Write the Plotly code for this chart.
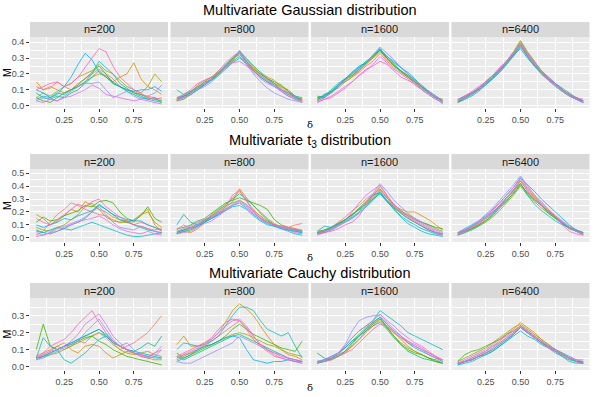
import plotly.graph_objects as go

# ---------------- data ----------------
delta = [0.05, 0.10, 0.15, 0.20, 0.25, 0.30, 0.35, 0.40, 0.45, 0.50,
         0.55, 0.60, 0.65, 0.70, 0.75, 0.80, 0.85, 0.90, 0.95]
sample_sizes = ["n=200", "n=800", "n=1600", "n=6400"]
row_titles = ["Multivariate Gaussian distribution",
              "Multivariate t<sub>3</sub> distribution",
              "Multivariate Cauchy distribution"]
y_ticks_row = [[0.0, 0.1, 0.2, 0.3, 0.4],
               [0.0, 0.1, 0.2, 0.3, 0.4, 0.5],
               [0.0, 0.1, 0.2, 0.3]]
x_ticks = [0.25, 0.50, 0.75]

g200 = [
    [0.12,0.10,0.11,0.15,0.12,0.10,0.14,0.17,0.20,0.23,0.20,0.17,0.12,0.10,0.09,0.07,0.06,0.05,0.04],
    [0.15,0.10,0.12,0.10,0.08,0.10,0.12,0.15,0.18,0.20,0.19,0.15,0.18,0.20,0.27,0.17,0.12,0.10,0.07],
    [0.05,0.08,0.06,0.09,0.12,0.14,0.18,0.20,0.22,0.26,0.22,0.20,0.16,0.12,0.10,0.08,0.12,0.20,0.15],
    [0.05,0.03,0.02,0.05,0.08,0.10,0.13,0.17,0.21,0.25,0.20,0.14,0.12,0.10,0.08,0.07,0.05,0.04,0.03],
    [0.08,0.05,0.04,0.06,0.05,0.08,0.10,0.14,0.18,0.22,0.18,0.15,0.12,0.09,0.07,0.05,0.04,0.05,0.02],
    [0.04,0.06,0.05,0.08,0.07,0.10,0.12,0.15,0.20,0.28,0.24,0.20,0.14,0.11,0.08,0.06,0.04,0.03,0.02],
    [0.10,0.08,0.05,0.07,0.12,0.18,0.26,0.33,0.29,0.21,0.18,0.14,0.12,0.10,0.09,0.10,0.10,0.12,0.09],
    [0.03,0.05,0.04,0.03,0.06,0.09,0.12,0.14,0.14,0.15,0.10,0.05,0.07,0.09,0.06,0.04,0.06,0.08,0.13],
    [0.03,0.02,0.04,0.03,0.05,0.06,0.08,0.10,0.13,0.11,0.07,0.06,0.05,0.04,0.03,0.04,0.03,0.02,0.01],
    [0.10,0.12,0.14,0.15,0.12,0.14,0.18,0.24,0.30,0.36,0.34,0.25,0.18,0.14,0.10,0.08,0.05,0.04,0.05],
]
g800 = [
    [0.04,0.05,0.09,0.12,0.14,0.17,0.20,0.25,0.29,0.33,0.27,0.23,0.19,0.16,0.14,0.11,0.08,0.05,0.03],
    [0.03,0.06,0.08,0.13,0.16,0.18,0.21,0.24,0.28,0.35,0.29,0.25,0.21,0.18,0.16,0.12,0.09,0.06,0.04],
    [0.05,0.07,0.09,0.11,0.15,0.18,0.22,0.26,0.30,0.32,0.28,0.24,0.20,0.17,0.14,0.12,0.10,0.06,0.03],
    [0.03,0.04,0.07,0.10,0.14,0.17,0.21,0.25,0.30,0.34,0.28,0.23,0.20,0.17,0.15,0.13,0.09,0.05,0.04],
    [0.04,0.06,0.08,0.11,0.13,0.17,0.20,0.24,0.28,0.31,0.26,0.22,0.18,0.15,0.13,0.10,0.07,0.05,0.03],
    [0.10,0.07,0.09,0.12,0.15,0.16,0.20,0.25,0.29,0.34,0.30,0.25,0.21,0.17,0.14,0.10,0.08,0.06,0.05],
    [0.05,0.06,0.07,0.10,0.13,0.16,0.19,0.23,0.27,0.30,0.27,0.22,0.18,0.15,0.12,0.09,0.06,0.04,0.02],
    [0.04,0.05,0.07,0.10,0.12,0.15,0.19,0.24,0.29,0.33,0.26,0.20,0.15,0.11,0.08,0.06,0.04,0.03,0.02],
    [0.03,0.05,0.07,0.11,0.14,0.17,0.22,0.27,0.31,0.34,0.28,0.21,0.17,0.14,0.12,0.10,0.07,0.05,0.03],
    [0.04,0.07,0.10,0.14,0.16,0.18,0.21,0.24,0.27,0.28,0.25,0.22,0.19,0.16,0.13,0.09,0.06,0.04,0.03],
]
g1600 = [
    [0.05,0.06,0.09,0.13,0.15,0.18,0.21,0.25,0.28,0.33,0.28,0.24,0.21,0.18,0.15,0.12,0.08,0.05,0.03],
    [0.04,0.07,0.08,0.12,0.16,0.19,0.22,0.26,0.30,0.35,0.29,0.25,0.22,0.19,0.16,0.12,0.09,0.06,0.03],
    [0.03,0.05,0.09,0.11,0.15,0.18,0.22,0.27,0.30,0.34,0.30,0.26,0.21,0.18,0.15,0.12,0.09,0.06,0.02],
    [0.06,0.05,0.08,0.12,0.17,0.19,0.23,0.27,0.31,0.35,0.30,0.25,0.22,0.19,0.15,0.11,0.08,0.05,0.04],
    [0.04,0.06,0.10,0.14,0.17,0.20,0.24,0.28,0.31,0.36,0.30,0.26,0.22,0.18,0.14,0.10,0.07,0.04,0.02],
    [0.03,0.07,0.09,0.12,0.16,0.21,0.24,0.27,0.31,0.35,0.31,0.27,0.24,0.20,0.16,0.12,0.08,0.05,0.01],
    [0.05,0.06,0.09,0.13,0.17,0.21,0.25,0.27,0.32,0.36,0.31,0.28,0.24,0.21,0.17,0.12,0.09,0.06,0.03],
    [0.03,0.05,0.08,0.12,0.16,0.20,0.23,0.26,0.32,0.37,0.33,0.29,0.24,0.20,0.16,0.13,0.09,0.06,0.02],
    [0.02,0.04,0.06,0.09,0.12,0.15,0.19,0.22,0.26,0.31,0.27,0.23,0.20,0.17,0.13,0.10,0.07,0.04,0.02],
    [0.02,0.04,0.05,0.08,0.11,0.15,0.19,0.23,0.25,0.28,0.26,0.22,0.18,0.16,0.14,0.11,0.08,0.05,0.03],
]
g6400 = [
    [0.03,0.05,0.07,0.10,0.14,0.18,0.22,0.27,0.33,0.39,0.32,0.26,0.21,0.17,0.14,0.10,0.07,0.05,0.03],
    [0.02,0.04,0.07,0.11,0.15,0.19,0.23,0.28,0.33,0.40,0.33,0.27,0.22,0.17,0.13,0.10,0.07,0.04,0.02],
    [0.03,0.06,0.08,0.11,0.14,0.17,0.21,0.26,0.31,0.37,0.31,0.25,0.20,0.16,0.13,0.09,0.06,0.04,0.03],
    [0.02,0.05,0.08,0.10,0.14,0.18,0.23,0.28,0.34,0.41,0.34,0.28,0.22,0.18,0.14,0.10,0.07,0.05,0.03],
    [0.04,0.06,0.08,0.11,0.15,0.19,0.22,0.27,0.32,0.38,0.32,0.26,0.21,0.17,0.14,0.11,0.08,0.05,0.03],
    [0.02,0.04,0.06,0.09,0.13,0.17,0.22,0.27,0.32,0.38,0.31,0.25,0.20,0.16,0.12,0.09,0.06,0.04,0.02],
    [0.03,0.05,0.07,0.10,0.13,0.17,0.21,0.26,0.32,0.36,0.30,0.25,0.21,0.17,0.13,0.10,0.07,0.04,0.02],
    [0.03,0.05,0.07,0.10,0.14,0.18,0.23,0.27,0.33,0.39,0.32,0.27,0.22,0.18,0.14,0.10,0.06,0.04,0.02],
    [0.04,0.06,0.09,0.12,0.15,0.19,0.23,0.28,0.33,0.38,0.32,0.26,0.21,0.16,0.13,0.10,0.07,0.05,0.04],
    [0.03,0.06,0.08,0.11,0.15,0.19,0.24,0.28,0.33,0.39,0.33,0.27,0.22,0.17,0.13,0.10,0.07,0.05,0.03],
]
t200 = [
    [0.02,0.05,0.12,0.18,0.22,0.27,0.25,0.22,0.20,0.18,0.17,0.14,0.12,0.13,0.10,0.12,0.10,0.08,0.05],
    [0.18,0.15,0.10,0.13,0.17,0.22,0.20,0.28,0.25,0.22,0.20,0.16,0.14,0.13,0.12,0.18,0.22,0.10,0.05],
    [0.08,0.06,0.05,0.08,0.10,0.14,0.18,0.24,0.27,0.22,0.16,0.13,0.12,0.12,0.14,0.18,0.20,0.12,0.08],
    [0.12,0.16,0.13,0.14,0.17,0.19,0.21,0.25,0.24,0.28,0.29,0.27,0.20,0.15,0.13,0.17,0.24,0.15,0.12],
    [0.06,0.04,0.03,0.05,0.07,0.10,0.12,0.15,0.20,0.26,0.22,0.18,0.14,0.12,0.10,0.08,0.06,0.05,0.04],
    [0.05,0.04,0.06,0.08,0.07,0.06,0.08,0.10,0.12,0.10,0.08,0.06,0.04,0.02,0.01,0.01,0.02,0.03,0.04],
    [0.10,0.08,0.10,0.12,0.15,0.14,0.17,0.19,0.21,0.25,0.22,0.18,0.16,0.14,0.13,0.13,0.10,0.08,0.06],
    [0.04,0.02,0.04,0.07,0.09,0.11,0.13,0.16,0.20,0.24,0.18,0.12,0.08,0.07,0.06,0.09,0.07,0.05,0.03],
    [0.01,0.02,0.04,0.05,0.08,0.10,0.12,0.14,0.15,0.17,0.14,0.10,0.07,0.05,0.04,0.03,0.05,0.03,0.02],
    [0.15,0.12,0.10,0.14,0.18,0.22,0.26,0.24,0.28,0.30,0.24,0.20,0.16,0.13,0.10,0.09,0.07,0.06,0.07],
]
t800 = [
    [0.04,0.06,0.08,0.11,0.14,0.16,0.20,0.24,0.31,0.36,0.29,0.22,0.16,0.12,0.10,0.09,0.08,0.10,0.11],
    [0.03,0.05,0.04,0.07,0.12,0.15,0.19,0.23,0.28,0.38,0.31,0.25,0.20,0.15,0.11,0.08,0.07,0.06,0.05],
    [0.05,0.06,0.08,0.10,0.13,0.18,0.22,0.25,0.27,0.29,0.25,0.21,0.17,0.13,0.10,0.08,0.07,0.06,0.05],
    [0.07,0.08,0.10,0.13,0.15,0.19,0.23,0.27,0.29,0.31,0.29,0.27,0.25,0.22,0.14,0.10,0.08,0.07,0.05],
    [0.03,0.05,0.06,0.09,0.12,0.17,0.21,0.26,0.30,0.34,0.30,0.25,0.19,0.14,0.10,0.08,0.06,0.05,0.04],
    [0.10,0.18,0.12,0.10,0.13,0.15,0.18,0.21,0.24,0.25,0.22,0.17,0.13,0.10,0.09,0.07,0.05,0.03,0.02],
    [0.04,0.06,0.07,0.09,0.12,0.15,0.18,0.22,0.25,0.27,0.23,0.18,0.14,0.11,0.09,0.07,0.06,0.05,0.04],
    [0.05,0.07,0.09,0.12,0.14,0.16,0.19,0.22,0.26,0.29,0.26,0.20,0.15,0.12,0.10,0.08,0.07,0.06,0.05],
    [0.03,0.04,0.05,0.08,0.11,0.13,0.17,0.21,0.25,0.28,0.24,0.19,0.15,0.12,0.10,0.08,0.06,0.04,0.03],
    [0.06,0.10,0.07,0.10,0.14,0.17,0.20,0.24,0.33,0.37,0.28,0.20,0.15,0.12,0.10,0.09,0.08,0.07,0.06],
]
t1600 = [
    [0.04,0.05,0.08,0.12,0.16,0.21,0.25,0.30,0.34,0.38,0.31,0.24,0.19,0.15,0.12,0.09,0.06,0.04,0.03],
    [0.05,0.06,0.08,0.11,0.14,0.18,0.22,0.27,0.32,0.40,0.32,0.25,0.22,0.20,0.20,0.17,0.14,0.10,0.06],
    [0.04,0.05,0.08,0.11,0.14,0.17,0.22,0.27,0.31,0.37,0.31,0.26,0.21,0.18,0.15,0.12,0.10,0.07,0.05],
    [0.03,0.05,0.07,0.10,0.14,0.18,0.23,0.28,0.33,0.35,0.29,0.24,0.20,0.17,0.14,0.12,0.10,0.08,0.07],
    [0.04,0.06,0.08,0.11,0.14,0.18,0.22,0.26,0.30,0.34,0.28,0.23,0.19,0.15,0.12,0.09,0.06,0.04,0.03],
    [0.05,0.09,0.08,0.10,0.13,0.16,0.20,0.25,0.30,0.36,0.29,0.22,0.16,0.11,0.08,0.05,0.03,0.02,0.01],
    [0.03,0.04,0.06,0.09,0.12,0.15,0.19,0.24,0.29,0.35,0.28,0.22,0.17,0.13,0.10,0.07,0.05,0.03,0.02],
    [0.03,0.05,0.07,0.10,0.12,0.15,0.20,0.28,0.34,0.42,0.36,0.29,0.24,0.19,0.15,0.12,0.09,0.06,0.04],
    [0.02,0.04,0.06,0.09,0.13,0.20,0.27,0.33,0.37,0.41,0.33,0.26,0.21,0.17,0.14,0.11,0.08,0.05,0.03],
    [0.03,0.04,0.05,0.07,0.10,0.12,0.17,0.25,0.33,0.38,0.31,0.25,0.20,0.16,0.13,0.10,0.07,0.04,0.02],
]
t6400 = [
    [0.03,0.05,0.08,0.11,0.15,0.19,0.24,0.30,0.36,0.44,0.37,0.31,0.26,0.21,0.16,0.12,0.08,0.05,0.03],
    [0.02,0.04,0.07,0.10,0.14,0.19,0.25,0.31,0.37,0.45,0.38,0.32,0.26,0.20,0.16,0.11,0.07,0.05,0.02],
    [0.03,0.05,0.07,0.09,0.12,0.16,0.21,0.27,0.33,0.40,0.33,0.28,0.23,0.19,0.15,0.11,0.07,0.05,0.04],
    [0.04,0.05,0.07,0.10,0.13,0.17,0.23,0.28,0.35,0.42,0.34,0.29,0.25,0.20,0.16,0.12,0.08,0.06,0.04],
    [0.03,0.06,0.09,0.12,0.16,0.20,0.24,0.29,0.34,0.41,0.35,0.30,0.25,0.19,0.15,0.11,0.08,0.06,0.03],
    [0.02,0.04,0.06,0.09,0.13,0.18,0.24,0.31,0.37,0.42,0.33,0.26,0.21,0.17,0.13,0.10,0.08,0.05,0.03],
    [0.04,0.07,0.10,0.13,0.17,0.22,0.27,0.33,0.39,0.46,0.41,0.36,0.30,0.25,0.20,0.15,0.10,0.06,0.04],
    [0.03,0.06,0.09,0.13,0.18,0.23,0.29,0.35,0.41,0.48,0.40,0.33,0.27,0.22,0.17,0.12,0.08,0.05,0.03],
    [0.03,0.05,0.08,0.12,0.16,0.21,0.27,0.33,0.39,0.47,0.39,0.33,0.28,0.22,0.17,0.10,0.05,0.03,0.02],
    [0.04,0.06,0.08,0.11,0.15,0.20,0.25,0.31,0.37,0.44,0.36,0.30,0.25,0.21,0.17,0.13,0.09,0.06,0.03],
]
c200 = [
    [0.05,0.07,0.09,0.12,0.10,0.12,0.15,0.14,0.18,0.20,0.17,0.13,0.10,0.12,0.14,0.17,0.20,0.25,0.30],
    [0.06,0.08,0.10,0.12,0.14,0.10,0.08,0.12,0.13,0.12,0.08,0.05,0.07,0.09,0.08,0.06,0.05,0.04,0.04],
    [0.05,0.06,0.07,0.08,0.10,0.12,0.14,0.16,0.18,0.20,0.18,0.14,0.10,0.08,0.07,0.08,0.09,0.07,0.06],
    [0.10,0.25,0.12,0.10,0.12,0.13,0.15,0.17,0.18,0.15,0.13,0.10,0.08,0.06,0.05,0.04,0.03,0.02,0.01],
    [0.05,0.06,0.08,0.10,0.12,0.14,0.16,0.18,0.20,0.22,0.19,0.15,0.12,0.10,0.09,0.11,0.14,0.12,0.18],
    [0.05,0.17,0.12,0.10,0.04,0.02,0.05,0.08,0.12,0.16,0.18,0.15,0.12,0.10,0.08,0.07,0.06,0.05,0.05],
    [0.04,0.06,0.08,0.10,0.12,0.14,0.16,0.18,0.20,0.22,0.18,0.14,0.12,0.10,0.09,0.08,0.07,0.06,0.05],
    [0.04,0.05,0.07,0.09,0.11,0.13,0.15,0.20,0.24,0.28,0.22,0.16,0.12,0.14,0.10,0.07,0.05,0.06,0.10],
    [0.05,0.07,0.09,0.10,0.12,0.15,0.19,0.25,0.28,0.31,0.25,0.18,0.14,0.10,0.08,0.06,0.05,0.08,0.12],
    [0.06,0.08,0.12,0.14,0.16,0.20,0.25,0.29,0.33,0.26,0.20,0.15,0.12,0.10,0.08,0.07,0.06,0.08,0.10],
]
c800 = [
    [0.05,0.07,0.08,0.10,0.12,0.15,0.18,0.21,0.24,0.27,0.22,0.16,0.12,0.09,0.06,0.05,0.04,0.03,0.03],
    [0.13,0.18,0.12,0.12,0.14,0.16,0.20,0.26,0.33,0.37,0.34,0.30,0.24,0.18,0.13,0.10,0.07,0.06,0.04],
    [0.04,0.06,0.08,0.10,0.12,0.13,0.15,0.17,0.19,0.20,0.19,0.17,0.15,0.13,0.12,0.10,0.08,0.07,0.06],
    [0.08,0.05,0.07,0.09,0.11,0.13,0.15,0.18,0.22,0.25,0.22,0.19,0.17,0.15,0.13,0.11,0.10,0.09,0.15],
    [0.06,0.04,0.06,0.08,0.10,0.12,0.14,0.16,0.18,0.19,0.17,0.15,0.13,0.11,0.09,0.07,0.05,0.04,0.03],
    [0.10,0.14,0.13,0.12,0.13,0.15,0.18,0.24,0.30,0.35,0.35,0.33,0.27,0.22,0.20,0.18,0.20,0.12,0.05],
    [0.03,0.05,0.07,0.10,0.12,0.13,0.15,0.17,0.18,0.17,0.10,0.04,0.03,0.02,0.03,0.03,0.04,0.03,0.02],
    [0.03,0.02,0.02,0.04,0.06,0.08,0.10,0.12,0.14,0.18,0.16,0.14,0.12,0.10,0.08,0.07,0.05,0.04,0.03],
    [0.05,0.07,0.09,0.11,0.13,0.16,0.20,0.24,0.27,0.28,0.24,0.18,0.13,0.10,0.07,0.05,0.04,0.03,0.02],
    [0.06,0.08,0.10,0.12,0.14,0.17,0.22,0.26,0.28,0.27,0.23,0.18,0.13,0.10,0.08,0.06,0.05,0.04,0.03],
]
c1600 = [
    [0.03,0.04,0.05,0.07,0.09,0.12,0.16,0.20,0.24,0.27,0.23,0.20,0.17,0.14,0.12,0.10,0.08,0.06,0.04],
    [0.02,0.03,0.04,0.06,0.09,0.13,0.18,0.22,0.25,0.28,0.24,0.20,0.16,0.12,0.09,0.07,0.05,0.03,0.02],
    [0.03,0.03,0.05,0.06,0.08,0.12,0.16,0.21,0.25,0.28,0.23,0.18,0.14,0.11,0.09,0.07,0.05,0.03,0.02],
    [0.02,0.04,0.05,0.08,0.11,0.15,0.19,0.23,0.26,0.29,0.23,0.18,0.13,0.10,0.08,0.07,0.05,0.04,0.02],
    [0.08,0.05,0.04,0.06,0.09,0.14,0.18,0.21,0.24,0.26,0.22,0.17,0.13,0.09,0.07,0.05,0.04,0.03,0.02],
    [0.02,0.03,0.05,0.07,0.12,0.17,0.21,0.24,0.27,0.33,0.30,0.27,0.24,0.20,0.18,0.16,0.14,0.12,0.10],
    [0.03,0.04,0.06,0.08,0.11,0.15,0.18,0.22,0.26,0.29,0.25,0.21,0.18,0.14,0.11,0.09,0.07,0.05,0.03],
    [0.03,0.04,0.05,0.08,0.13,0.21,0.27,0.29,0.30,0.30,0.26,0.22,0.18,0.15,0.12,0.10,0.07,0.05,0.04],
    [0.02,0.04,0.06,0.08,0.12,0.17,0.21,0.24,0.27,0.31,0.27,0.24,0.20,0.17,0.14,0.12,0.09,0.06,0.04],
    [0.03,0.03,0.04,0.06,0.08,0.10,0.14,0.18,0.22,0.25,0.24,0.20,0.17,0.15,0.13,0.11,0.08,0.06,0.03],
]
c6400 = [
    [0.02,0.03,0.04,0.06,0.08,0.10,0.13,0.16,0.19,0.24,0.20,0.17,0.14,0.12,0.10,0.07,0.05,0.03,0.03],
    [0.02,0.03,0.05,0.07,0.09,0.12,0.15,0.19,0.22,0.26,0.23,0.20,0.16,0.13,0.10,0.08,0.05,0.03,0.02],
    [0.03,0.05,0.07,0.09,0.11,0.14,0.17,0.20,0.23,0.25,0.22,0.19,0.16,0.13,0.10,0.07,0.05,0.03,0.02],
    [0.03,0.07,0.09,0.10,0.12,0.14,0.16,0.19,0.21,0.24,0.21,0.18,0.15,0.12,0.09,0.07,0.05,0.03,0.02],
    [0.02,0.03,0.04,0.06,0.07,0.09,0.12,0.15,0.19,0.23,0.20,0.17,0.14,0.11,0.09,0.06,0.04,0.03,0.03],
    [0.01,0.02,0.03,0.05,0.07,0.09,0.12,0.15,0.18,0.21,0.18,0.16,0.13,0.11,0.08,0.06,0.03,0.02,0.02],
    [0.01,0.03,0.04,0.06,0.08,0.10,0.13,0.16,0.19,0.23,0.20,0.17,0.14,0.12,0.10,0.08,0.06,0.04,0.02],
    [0.02,0.03,0.05,0.07,0.09,0.12,0.14,0.17,0.20,0.24,0.21,0.18,0.15,0.12,0.09,0.07,0.05,0.03,0.02],
    [0.02,0.04,0.06,0.08,0.10,0.13,0.16,0.18,0.21,0.24,0.21,0.18,0.15,0.12,0.10,0.07,0.05,0.04,0.03],
    [0.02,0.03,0.04,0.06,0.08,0.11,0.14,0.17,0.20,0.23,0.20,0.17,0.14,0.11,0.09,0.07,0.05,0.04,0.04],
]

line_colors = ["#F8766D", "#D89000", "#A3A500", "#39B600", "#00BF7D",
               "#00BFC4", "#00B0F6", "#9590FF", "#E76BF3", "#FF62BC"]

panels = [[g200, g800, g1600, g6400],
          [t200, t800, t1600, t6400],
          [c200, c800, c1600, c6400]]

# ---------------- layout geometry (pixels) ----------------
W, H = 595, 397
col_left = [30.0, 170.5, 311.0, 451.5]
col_w = 138.0
row_plot = [(37, 108), (169, 242), (298, 370)]
row_strip = [(22, 37), (154, 169), (283, 298)]
row_title_y = [10, 141, 273]
row_delta_y = [125, 257, 387]
y_ranges = [[-0.015, 0.433], [-0.033, 0.533], [-0.02, 0.404]]
x_range = [0.005, 0.995]


def px(x):
    return x / W


def py(y):
    return 1 - y / H


FONT = "Liberation Sans, Arial, Helvetica, sans-serif"
fig = go.Figure()
layout = dict(width=W, height=H, margin=dict(l=0, r=0, t=0, b=0, pad=0,
                                             autoexpand=False),
              paper_bgcolor="white", plot_bgcolor="#EBEBEB",
              showlegend=False, font=dict(family=FONT))
shapes, annotations = [], []

for r in range(3):
    for c in range(4):
        idx = r * 4 + c + 1
        xa = "x" if idx == 1 else f"x{idx}"
        ya = "y" if idx == 1 else f"y{idx}"
        for k, series in enumerate(panels[r][c]):
            fig.add_trace(go.Scatter(x=delta, y=series, mode="lines",
                                     line=dict(color=line_colors[k], width=0.8),
                                     xaxis=xa, yaxis=ya, hoverinfo="skip"))
        x0, x1 = col_left[c], col_left[c] + col_w
        y0, y1 = row_plot[r]
        layout[f"xaxis{idx}"] = dict(
            domain=[px(x0), px(x1)], anchor=ya, range=x_range, automargin=False,
            tickmode="array", tickvals=x_ticks, ticktext=[f"{v:.2f}" for v in x_ticks],
            showgrid=True, gridcolor="white", gridwidth=1.1,
            minor=dict(tickmode="array", tickvals=[0.125, 0.375, 0.625, 0.875],
                       showgrid=True, gridcolor="white", gridwidth=0.5, ticks=""),
            ticks="outside", ticklen=3, tickcolor="#333333", tickwidth=0.8,
            tickfont=dict(size=9, color="#4D4D4D"), zeroline=False,
            showline=False, fixedrange=True)
        yt = y_ticks_row[r]
        layout[f"yaxis{idx}"] = dict(
            domain=[py(y1), py(y0)], anchor=xa, range=y_ranges[r], automargin=False,
            tickmode="array", tickvals=yt, ticktext=[f"{v:.1f}" for v in yt],
            showticklabels=(c == 0), ticks="outside" if c == 0 else "",
            ticklen=3, tickcolor="#333333", tickwidth=0.8,
            showgrid=True, gridcolor="white", gridwidth=1.1,
            minor=dict(tickmode="array",
                       tickvals=[v + 0.05 for v in yt] + [-0.05],
                       showgrid=True, gridcolor="white", gridwidth=0.5, ticks=""),
            tickfont=dict(size=9, color="#4D4D4D"), zeroline=False,
            showline=False, fixedrange=True)
        # strip
        s0, s1 = row_strip[r]
        shapes.append(dict(type="rect", xref="paper", yref="paper",
                           x0=px(x0), x1=px(x1), y0=py(s1), y1=py(s0),
                           fillcolor="#D9D9D9", line=dict(width=0), layer="below"))
        annotations.append(dict(text=sample_sizes[c], xref="paper", yref="paper",
                                x=px((x0 + x1) / 2), y=py((s0 + s1) / 2),
                                showarrow=False, xanchor="center", yanchor="middle",
                                font=dict(size=11, color="#1A1A1A")))
    # row title
    annotations.append(dict(text=row_titles[r], xref="paper", yref="paper",
                            x=px(309.5), y=py(row_title_y[r]), showarrow=False,
                            xanchor="center", yanchor="middle",
                            font=dict(size=14.5, color="black")))
    # axis titles
    annotations.append(dict(text="δ", xref="paper", yref="paper",
                            x=px(309.5), y=py(row_delta_y[r]), showarrow=False,
                            xanchor="center", yanchor="middle",
                            font=dict(size=10, color="black",
                                      family="DejaVu Serif, serif")))
    yc = (row_plot[r][0] + row_plot[r][1]) / 2
    annotations.append(dict(text="M", xref="paper", yref="paper",
                            x=px(6.5), y=py(yc), showarrow=False, textangle=-90,
                            xanchor="center", yanchor="middle",
                            font=dict(size=10.5, color="black")))

layout["shapes"] = shapes
layout["annotations"] = annotations
fig.update_layout(**layout)
fig.write_html("out.html", config={"displayModeBar": False},
               post_script="document.body.style.margin='0px';"
                           "document.body.style.padding='0px';")
